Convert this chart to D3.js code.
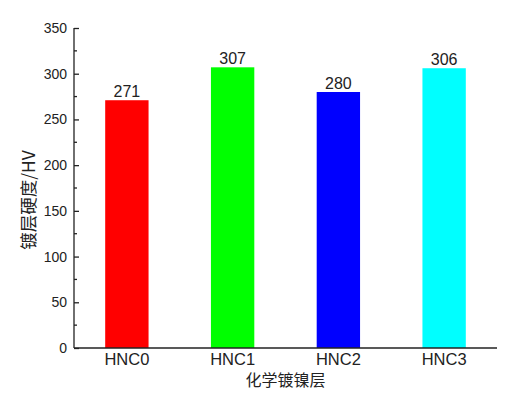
<!DOCTYPE html>
<html lang="zh">
<head>
<meta charset="UTF-8">
<script src="https://cdnjs.cloudflare.com/ajax/libs/d3/7.8.5/d3.min.js"></script>
<style>
body{ margin:0; background:#fff; }
text{ font-family: "Liberation Sans", Arial, sans-serif; fill:#222; }
.cjk{ font-family: "Noto Sans CJK SC", sans-serif; }
</style>
</head>
<body>
<div id="main-container"></div>
<script>
// data
const categories = ['HNC0', 'HNC1', 'HNC2', 'HNC3'];
const hardness = [271, 307, 280, 306];
const barColors = ['#ff0000', '#00ff00', '#0000ff', '#00ffff'];
const yTicks = [0, 50, 100, 150, 200, 250, 300, 350];

const w = 521, h = 399;
const padL = 74, padR = 497, padT = 28, padB = 348;

const svg = d3.select('#main-container').append('svg').attr('width', w).attr('height', h);

const xScale = d3.scaleBand().domain(categories).range([padL, padR]).paddingInner(0.59).paddingOuter(0.295);
const yScale = d3.scaleLinear().domain([0, 350]).range([padB, padT]);

svg.selectAll('rect.bar').data(hardness).enter().append('rect')
  .attr('class', 'bar')
  .attr('x', (d, i) => xScale(categories[i]))
  .attr('y', d => yScale(d))
  .attr('width', xScale.bandwidth())
  .attr('height', d => yScale(0) - yScale(d))
  .attr('fill', (d, i) => barColors[i]);

svg.selectAll('text.val').data(hardness).enter().append('text')
  .attr('class', 'val')
  .attr('x', (d, i) => xScale(categories[i]) + xScale.bandwidth() / 2)
  .attr('y', d => yScale(d) - 3)
  .attr('text-anchor', 'middle')
  .style('font-size', '16px')
  .text(d => d);

// y axis: inward ticks, minor ticks between
const yAxis = d3.axisRight(yScale).tickValues(yTicks).tickSize(5).tickFormat('');
const gy = svg.append('g').attr('transform', 'translate(' + padL + ',0)').call(yAxis);
gy.select('.domain').attr('d', 'M0,' + padT + 'V' + padB).attr('stroke', '#222').attr('stroke-width', 1.3);
gy.selectAll('.tick line').attr('stroke', '#222').attr('stroke-width', 1.3);
const minor = d3.range(25, 350, 50);
svg.append('g').selectAll('line').data(minor).enter().append('line')
  .attr('x1', padL).attr('x2', padL + 3)
  .attr('y1', d => yScale(d)).attr('y2', d => yScale(d))
  .attr('stroke', '#222').attr('stroke-width', 1.3);
svg.append('g').selectAll('text').data(yTicks).enter().append('text')
  .attr('x', padL - 7).attr('y', d => yScale(d) + 5)
  .attr('text-anchor', 'end')
  .style('font-size', '14px')
  .text(d => d);

// x axis
const xAxis = d3.axisBottom(xScale).tickSize(0).tickPadding(5);
const gx = svg.append('g').attr('transform', 'translate(0,' + padB + ')').call(xAxis);
gx.select('.domain').attr('d', 'M' + padL + ',0H' + padR).attr('stroke', '#222').attr('stroke-width', 1.3);
gx.selectAll('.tick text').style('font-size', '16.5px').style('font-family', '"Liberation Sans", Arial, sans-serif').attr('fill', '#222');

svg.append('text').attr('class', 'cjk')
  .attr('x', (padL + padR) / 2).attr('y', 386)
  .attr('text-anchor', 'middle').style('font-size', '16px')
  .text('化学镀镍层');

svg.append('text').attr('class', 'cjk')
  .attr('transform', 'translate(35,200) rotate(-90)')
  .attr('text-anchor', 'middle').style('font-size', '17.5px')
  .text('镀层硬度/HV');
</script>
</body>
</html>
